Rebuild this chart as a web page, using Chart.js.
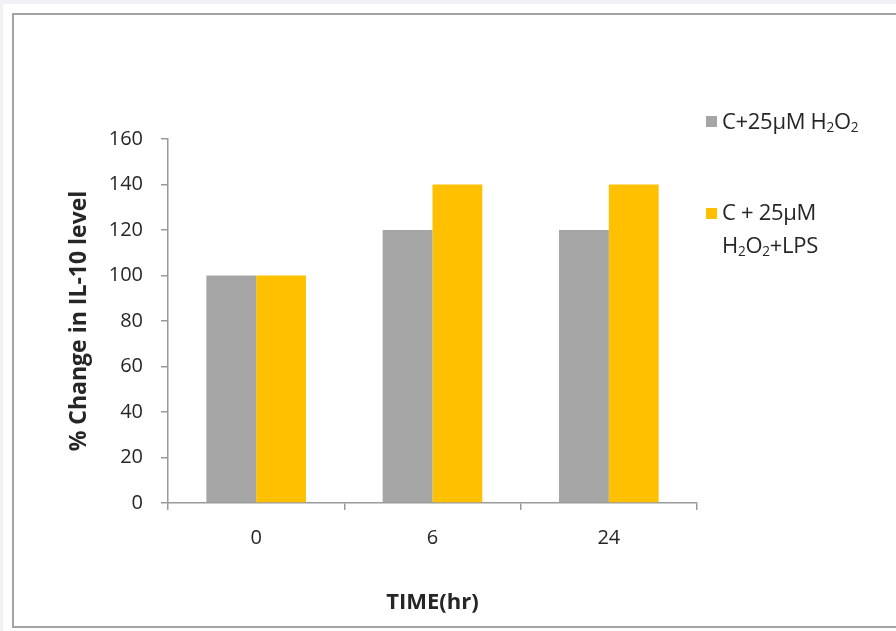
<!DOCTYPE html>
<html>
<head>
<meta charset="utf-8">
<script src="https://cdn.jsdelivr.net/npm/chart.js@4"></script>
<style>
	html, body { margin: 0; padding: 0; }
	body { width: 896px; height: 631px; background: #f0f2f5; position: relative; overflow: hidden; }
	#sheet { position: absolute; left: 3px; top: 4px; width: 893px; height: 627px; background: #fff; }
	#frame { position: absolute; left: 12px; top: 13px; width: 900px; height: 615px; border: 2px solid #a3a3a3; border-right: none; box-sizing: border-box; }
	#wrap { position: absolute; left: 0; top: 0; width: 896px; height: 631px; }
	.legend { position: absolute; left: 706px; font-family: 'Open Sans', Lato, sans-serif; font-size: 22px; color: #262626; letter-spacing: -0.3px; }
	.legend .sw { position: absolute; left: 0; width: 11px; height: 11px; }
	.legend .txt { position: absolute; left: 16px; top: -3px; white-space: nowrap; line-height: 26px; }
	sub { font-size: 0.62em; vertical-align: -0.2em; }
</style>
</head>
<body>
<div id="sheet"></div>
<div id="frame"></div>
<div id="wrap"><canvas id="chart" width="896" height="631"></canvas></div>
<div class="legend" style="top:110px">
	<div class="sw" style="top:6px;background:#a5a5a5"></div>
	<div class="txt">C+25µM H<sub>2</sub>O<sub>2</sub></div>
</div>
<div class="legend" style="top:201px">
	<div class="sw" style="top:7px;background:#ffc000"></div>
	<div class="txt">C + 25µM</div>
	<div class="txt" style="top:30px">H<sub>2</sub>O<sub>2</sub>+LPS</div>
</div>
<script>
const timeLabels = ['0', '6', '24'];
const h2o2Values = [100, 120, 120];
const h2o2LpsValues = [100, 140, 140];
const seriesNames = ['C+25µM H₂O₂', 'C + 25µM H₂O₂+LPS'];

const axisColor = '#9a9a9a';
const textColor = '#262626';
const fontFamily = '"Open Sans", Lato, sans-serif';

const config = {
	type: 'bar',
	data: {
		labels: timeLabels,
		datasets: [
			{
				label: seriesNames[0],
				data: h2o2Values,
				backgroundColor: '#a5a5a5',
				barPercentage: 1,
				categoryPercentage: 0.565
			},
			{
				label: seriesNames[1],
				data: h2o2LpsValues,
				backgroundColor: '#ffc000',
				barPercentage: 1,
				categoryPercentage: 0.565
			}
		]
	},
	options: {
		responsive: false,
		animation: false,
		layout: { padding: { left: 50, top: 139, right: 199, bottom: 10 } },
		plugins: {
			legend: { display: false },
			tooltip: { enabled: false }
		},
		scales: {
			x: {
				grid: { drawOnChartArea: false, drawTicks: true, tickLength: 7, color: axisColor, lineWidth: 1.5 },
				border: { display: true, color: axisColor, width: 1.5 },
				ticks: { color: textColor, padding: 16, font: { family: fontFamily, size: 20 } },
				title: {
					display: true,
					text: 'TIME(hr)',
					color: textColor,
					padding: { top: 0, bottom: 5 },
					font: { family: fontFamily, size: 22, weight: 'bold' }
				},
				afterFit: (scale) => { scale.height = 118; }
			},
			y: {
				min: 0,
				max: 160,
				ticks: { stepSize: 20, color: textColor, padding: 18, font: { family: fontFamily, size: 20 } },
				grid: { drawOnChartArea: false, drawTicks: true, tickLength: 7, color: axisColor, lineWidth: 1.5 },
				border: { display: true, color: axisColor, width: 1.5 },
				title: {
					display: true,
					text: '% Change in IL-10 level',
					color: textColor,
					padding: { top: 16, bottom: 0 },
					font: { family: fontFamily, size: 23, weight: 'bold' }
				},
				afterFit: (scale) => { scale.width = 118; }
			}
		}
	}
};

const ctx = document.getElementById('chart');
new Chart(ctx, config);
</script>
</body>
</html>
